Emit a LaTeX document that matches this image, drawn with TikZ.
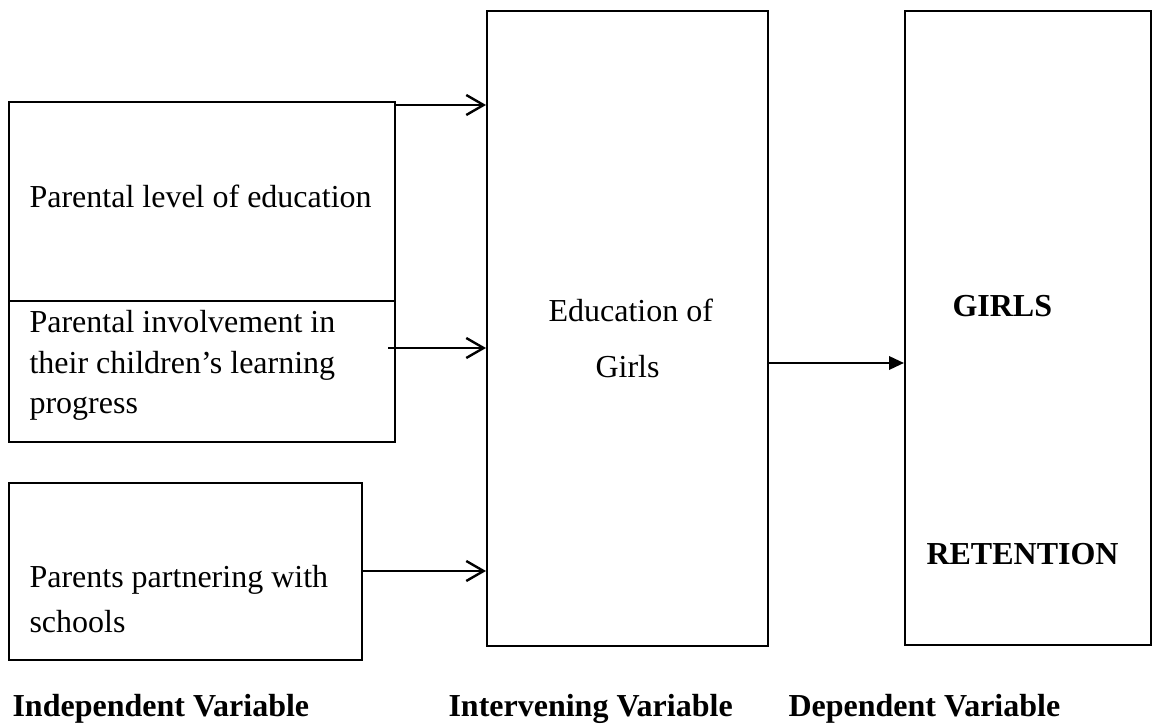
\documentclass[tikz,border=0pt]{standalone}
\usepackage{fontspec}
\setmainfont{Liberation Serif}
\usetikzlibrary{arrows.meta,positioning,math}

\begin{document}
\begin{tikzpicture}[x=0.375pt,y=-0.375pt]

\tikzmath{
	\px = 0.375;
}

\tikzset{
  varbox/.style 2 args={draw, line width=0.7pt,
    minimum width=#1*\px pt, minimum height=#2*\px pt,
    inner sep=0pt, anchor=north west},
  txt/.style={inner sep=0pt, anchor=base west,
    font=\fontsize{12pt}{14pt}\selectfont},
  heading/.style={txt, font=\fontsize{12pt}{14pt}\selectfont\bfseries},
  open arrow/.style={-{Straight Barb[length=6.5pt,width=7.5pt,line width=0.9pt]}, line width=0.9pt},
  solid arrow/.style={-{Triangle[length=5.6pt,width=5pt]}, line width=0.9pt}
}

\useasboundingbox (0,0) rectangle (1152,726);

\node[varbox={386}{199}] (level) at (8,101) {};
\node[varbox={386}{141}] (involve) at (8,300) {};
\node[varbox={353}{177}] (partner) at (8,482) {};
\node[varbox={281}{635}] (educ) at (486,10) {};
\node[varbox={246}{634}] (retain) at (904,10) {};

\node[txt] (levelT) at (29,208) {Parental level of education};
\node[txt] (involveA) at (29,333) {Parental involvement in};
\node[txt] (involveB) at (29,374) {their children’s learning};
\node[txt] (involveC) at (29,414) {progress};
\node[txt] (partnerA) at (29,588) {Parents partnering with};
\node[txt] (partnerB) at (29,633) {schools};
\node[txt] (educA) at (548,322) {Education of};
\node[txt] (educB) at (595,378) {Girls};
\node[heading] (girls) at (952,317) {GIRLS};
\node[heading] (retention) at (926,565) {RETENTION};

\node[heading] (indep) at (12,717) {Independent Variable};
\node[heading] (interv) at (448,717) {Intervening Variable};
\node[heading] (dep) at (788,717) {Dependent Variable};

\coordinate (h1) at (0,105);
\coordinate (h2) at (388,348);
\coordinate (h3) at (0,571);
\coordinate (h4) at (0,363);

\draw [open arrow] (level.east |- h1) -- (educ.west |- h1);
\draw [open arrow] (h2) -- (educ.west |- h2);
\draw [open arrow] (partner.east |- h3) -- (educ.west |- h3);
\draw [solid arrow] (educ.east |- h4) -- (retain.west |- h4);

\end{tikzpicture}
\end{document}
